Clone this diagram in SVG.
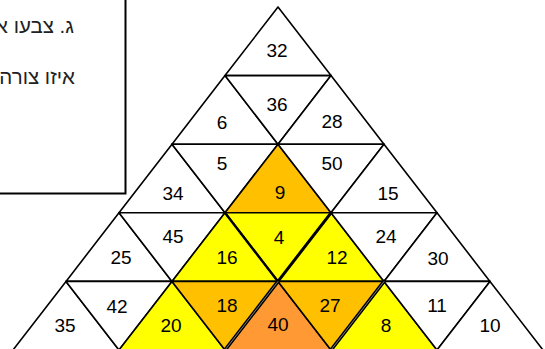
<svg xmlns="http://www.w3.org/2000/svg" width="545" height="349" viewBox="0 0 545 349">
<defs>
<style>
.t polygon{stroke:#000;stroke-width:1.6;stroke-linejoin:round;fill:#fff}
.y polygon{fill:#FFFF00}
.o polygon{fill:#FFC000}
.d polygon{fill:#FF9933}
.t text{font-family:"Liberation Sans",Arial,sans-serif;font-size:19px;fill:#000;text-anchor:middle}
.he{font-family:"Liberation Sans","DejaVu Sans",sans-serif;font-size:20.5px;fill:#222;text-anchor:end}
.e{stroke:#000;stroke-linecap:round}
</style>
</defs>
<rect width="545" height="349" fill="#fff"/>
<g id="textbox">
<rect x="-10" y="-10" width="135.5" height="203.5" fill="#fff" stroke="#000" stroke-width="2"/>
<text class="he" x="74" y="32.5">ג. צבעו א</text>
<text class="he" x="75" y="84">איזו צורה</text>
</g>
<g id="t32" class="t"><polygon points="278,7 225,75.6 331,75.6"/><text x="277" y="57">32</text></g>
<g id="t6" class="t"><polygon points="225,75.6 172,144.2 278,144.2"/><text x="222" y="129">6</text></g>
<g id="t36" class="t"><polygon points="225,75.6 331,75.6 278,144.2"/><text x="277" y="111">36</text></g>
<g id="t28" class="t"><polygon points="331,75.6 278,144.2 384,144.2"/><text x="332" y="128">28</text></g>
<g id="t34" class="t"><polygon points="172,144.2 119,212.8 225,212.8"/><text x="173" y="200">34</text></g>
<g id="t5" class="t"><polygon points="172,144.2 278,144.2 225,212.8"/><text x="222" y="170">5</text></g>
<g id="t9" class="t o"><polygon points="278,144.2 225,212.8 331,212.8"/><text x="280" y="199">9</text></g>
<g id="t50" class="t"><polygon points="278,144.2 384,144.2 331,212.8"/><text x="332" y="170">50</text></g>
<g id="t15" class="t"><polygon points="384,144.2 331,212.8 437,212.8"/><text x="388" y="200">15</text></g>
<g id="t25" class="t"><polygon points="119,212.8 66,281.4 172,281.4"/><text x="121" y="264">25</text></g>
<g id="t45" class="t"><polygon points="119,212.8 225,212.8 172,281.4"/><text x="173" y="243">45</text></g>
<g id="t16" class="t y"><polygon points="225,212.8 172,281.4 278,281.4"/><text x="227" y="264">16</text></g>
<g id="t4" class="t y"><polygon points="225,212.8 331,212.8 278,281.4"/><text x="279" y="244">4</text></g>
<g id="t12" class="t y"><polygon points="331,212.8 278,281.4 384,281.4"/><text x="337" y="264">12</text></g>
<g id="t24" class="t"><polygon points="331,212.8 437,212.8 384,281.4"/><text x="386" y="243">24</text></g>
<g id="t30" class="t"><polygon points="437,212.8 384,281.4 490,281.4"/><text x="438" y="265">30</text></g>
<g id="t35" class="t"><polygon points="66,281.4 13,350 119,350"/><text x="65" y="332">35</text></g>
<g id="t42" class="t"><polygon points="66,281.4 172,281.4 119,350"/><text x="117" y="313">42</text></g>
<g id="t20" class="t y"><polygon points="172,281.4 119,350 225,350"/><text x="171" y="332">20</text></g>
<g id="t18" class="t o"><polygon points="172,281.4 278,281.4 225,350"/><text x="227" y="312">18</text></g>
<g id="t40" class="t d"><polygon points="278,281.4 225,350 331,350"/><text x="278" y="331">40</text></g>
<g id="t27" class="t o"><polygon points="278,281.4 384,281.4 331,350"/><text x="330" y="312">27</text></g>
<g id="t8" class="t y"><polygon points="384,281.4 331,350 437,350"/><text x="386" y="332">8</text></g>
<g id="t11" class="t"><polygon points="384,281.4 490,281.4 437,350"/><text x="437" y="312">11</text></g>
<g id="t10" class="t"><polygon points="490,281.4 437,350 543,350"/><text x="490" y="332">10</text></g>
<g id="edges" fill="none">
<line class="e" x1="225" y1="212.8" x2="278" y2="281.4" stroke-width="2.4"/>
<line class="e" x1="331" y1="212.8" x2="278" y2="281.4" stroke-width="3"/>
<line class="e" x1="278" y1="281.4" x2="225" y2="350" stroke-width="3.6"/>
<line x1="278" y1="281.4" x2="225" y2="350" stroke="#999" stroke-width="0.8"/>
<line class="e" x1="384" y1="281.4" x2="331" y2="350" stroke-width="3.6"/>
<line x1="384" y1="281.4" x2="331" y2="350" stroke="#999" stroke-width="0.8"/>
</g>
</svg>
